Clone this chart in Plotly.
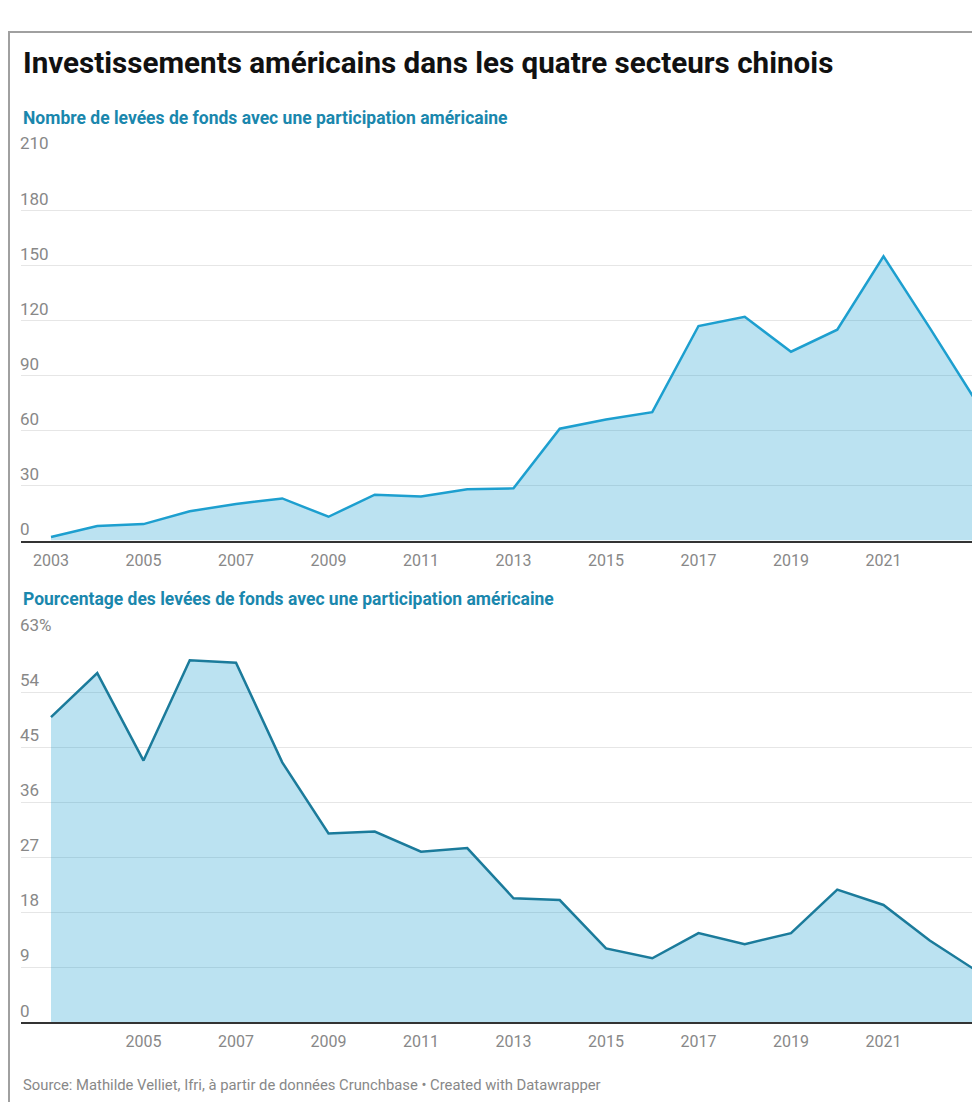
import plotly.graph_objects as go

years = list(range(2003, 2024))
count_values = [2, 8, 9, 16, 20, 23, 13, 25, 24, 28, 28.5, 61, 66, 70, 117, 122, 103, 115, 155, 116, 76]
pct_values = [49.9, 57.1, 42.8, 59.2, 58.8, 42.5, 30.9, 31.2, 27.9, 28.5, 20.3, 20.0, 12.1, 10.5, 14.6, 12.8, 14.6, 21.7, 19.2, 13.4, 8.5]

x_ticks = list(range(2003, 2024, 2))
count_ticks = [0, 30, 60, 90, 120, 150, 180, 210]
count_tick_text = ["0", "30", "60", "90", "120", "150", "180", "210"]
pct_ticks = [0, 9, 18, 27, 36, 45, 54, 63]
pct_tick_text = ["0", "9", "18", "27", "36", "45", "54", "63%"]

title_text = "Investissements américains dans les quatre secteurs chinois"
sub1_text = "Nombre de levées de fonds avec une participation américaine"
sub2_text = "Pourcentage des levées de fonds avec une participation américaine"
source_text = "Source: Mathilde Velliet, Ifri, à partir de données Crunchbase • Created with Datawrapper"

# figure keeps the full page size; the default 8px body margin offsets it
M = 8
W, H = 980, 1102
FONT = "Roboto"
GRAY = "#888888"
SUB_COLOR = "#1a87ad"
FILL = "rgba(29,159,208,0.30)"

def fx(page_x):
    return min(1.0, max(0.0, (page_x - M) / W))

def fy(page_y):
    return min(1.0, max(0.0, 1 - (page_y - M) / H))

fig = go.Figure()
fig.add_trace(go.Scatter(x=years, y=count_values, mode="lines", fill="tozeroy",
                         fillcolor=FILL, line=dict(color="#1d9fcf", width=2.5),
                         xaxis="x", yaxis="y", hoverinfo="x+y"))
fig.add_trace(go.Scatter(x=years, y=pct_values, mode="lines", fill="tozeroy",
                         fillcolor=FILL, line=dict(color="#1b7b9b", width=2.5),
                         xaxis="x2", yaxis="y2", hoverinfo="x+y"))

xdom = [fx(21), fx(976)]
xrange = [2003 - 30 / 46.25, 2023]

def xaxis_cfg(anchor):
    return dict(domain=xdom, range=xrange, anchor=anchor, tickvals=x_ticks,
                ticktext=[str(v) for v in x_ticks], showgrid=False, zeroline=False,
                showline=True, linecolor="#333333", linewidth=1.5, ticks="",
                tickfont=dict(family=FONT, size=16, color=GRAY), ticklabelstandoff=4)

def yaxis_cfg(anchor, dom, rng, tv, tt):
    return dict(domain=dom, range=rng, anchor=anchor, tickvals=tv, ticktext=tt,
                showgrid=True, gridcolor="#e6e6e6", gridwidth=1, zeroline=False,
                showline=False, ticks="", ticklabelposition="inside top",
                ticklabeloverflow="hide past div",
                tickfont=dict(family=FONT, size=17, color=GRAY), ticklabelstandoff=-4)

fig.update_layout(
    width=W, height=H,
    margin=dict(l=0, r=0, t=0, b=0),
    paper_bgcolor="white", plot_bgcolor="white",
    showlegend=False,
    xaxis=xaxis_cfg("y"),
    yaxis=yaxis_cfg("x", [fy(529), fy(136)], [0, 210], count_ticks, count_tick_text),
    xaxis2=xaxis_cfg("y2"),
    yaxis2=yaxis_cfg("x2", [fy(1020.7), fy(627.3)], [0, 63], pct_ticks, pct_tick_text),
    font=dict(family=FONT),
)

annotations = [
    dict(text="<b>" + title_text + "</b>", x=fx(21), y=fy(42), xref="paper", yref="paper",
         xanchor="left", yanchor="middle", showarrow=False,
         font=dict(family=FONT, size=29.6, color="#111111")),
    dict(text="<b>" + sub1_text + "</b>", x=fx(21), y=fy(98), xref="paper", yref="paper",
         xanchor="left", yanchor="middle", showarrow=False,
         font=dict(family=FONT, size=17.5, color=SUB_COLOR)),
    dict(text="<b>" + sub2_text + "</b>", x=fx(21), y=fy(589), xref="paper", yref="paper",
         xanchor="left", yanchor="middle", showarrow=False,
         font=dict(family=FONT, size=17.5, color=SUB_COLOR)),
    dict(text=source_text, x=fx(21), y=fy(1084), xref="paper", yref="paper",
         xanchor="left", yanchor="middle", showarrow=False,
         font=dict(family=FONT, size=14.8, color=GRAY)),
]
fig.update_layout(annotations=annotations)

fig.update_layout(shapes=[
    dict(type="line", xref="paper", yref="paper", x0=0, x1=1, y0=fy(10), y1=fy(10),
         line=dict(color="#a0a0a0", width=2)),
    dict(type="line", xref="paper", yref="paper", x0=1 / W, x1=1 / W, y0=fy(10), y1=0,
         line=dict(color="#a0a0a0", width=2)),
])

fig.write_html("out.html")
